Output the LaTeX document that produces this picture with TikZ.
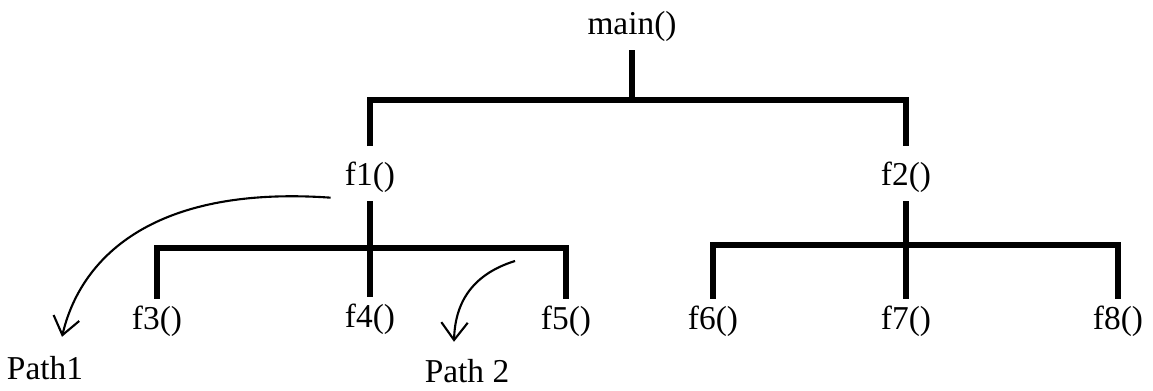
\documentclass[tikz,border=0pt]{standalone}
\usepackage{fontspec}
\setmainfont{Liberation Serif}
\usetikzlibrary{arrows.meta}

\begin{document}
\begin{tikzpicture}[x=0.02cm,y=-0.02cm]
\tikzstyle{func}=[font=\fontsize{19}{22}\selectfont,text height=13pt,text depth=5pt,inner xsep=2pt,inner ysep=4pt]
\tikzstyle{branch}=[line width=3.2pt]
\tikzstyle{walk}=[line width=1.2pt,-{Straight Barb[length=10pt,width=15pt,line width=1.2pt]}]
\useasboundingbox (0,0) rectangle (1153,391);
\node [func] (main) at (632,27) {main()};
\node [func] (f1) at (370,178) {f1()};
\node [func] (f2) at (906,178) {f2()};
\node [func] (f3) at (157,322) {f3()};
\node [func] (f4) at (370,320) {f4()};
\node [func] (f5) at (566,322) {f5()};
\node [func] (f6) at (713,322) {f6()};
\node [func] (f7) at (906,322) {f7()};
\node [func] (f8) at (1118,322) {f8()};
\node [func] (path1) at (45,372) {Path1};
\node [func] (path2) at (467,375) {Path 2};
\coordinate (top) at (632,100);
\coordinate (left) at (370,248);
\coordinate (right) at (906,245);
\coordinate (walk2) at (515,261);
% tree
\draw[branch] (main) -- (top);
\draw[branch,shorten <=5pt,shorten >=5pt] (f1) |- (top) -| (f2);
\draw[branch] (f1) -- (f4);
\draw[branch] (f3) |- (left) -| (f5);
\draw[branch] (f2) -- (f7);
\draw[branch] (f6) |- (right) -| (f8);
% paths
\draw[walk] ([xshift=-6pt,yshift=2pt]f1.south west)
    .. controls (150,185) and (80,260) .. ([shift={(17,-12)}]path1.north);
\draw[walk] (walk2)
    .. controls (470,275) and (455,305) .. ([shift={(-13,-10)}]path2.north);
\end{tikzpicture}
\end{document}
